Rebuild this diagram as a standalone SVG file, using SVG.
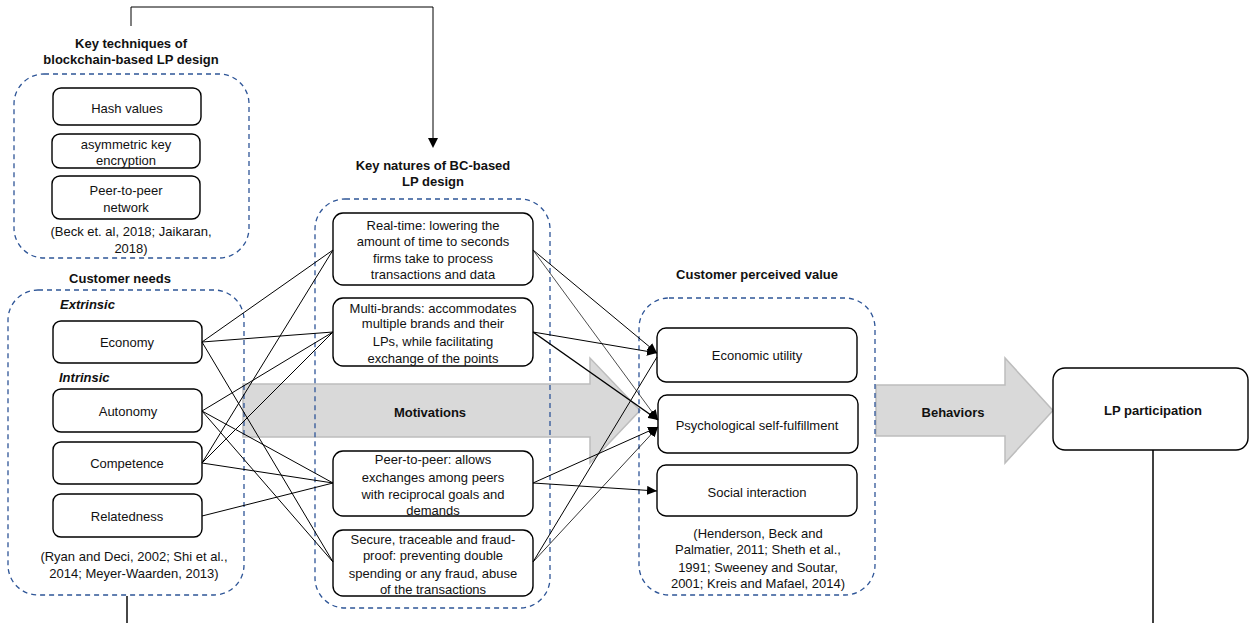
<svg xmlns="http://www.w3.org/2000/svg" width="1250" height="623" viewBox="0 0 1250 623">
<style>
text{font-family:"Liberation Sans",Arial,sans-serif;font-size:13px;fill:#111;text-anchor:middle}
.t{font-weight:bold}
.it{font-weight:bold;font-style:italic;text-anchor:start}
.grp{fill:none;stroke:#2e5597;stroke-width:1.3;stroke-dasharray:5 4}
.box{fill:#fff;stroke:#000;stroke-width:1.4}
.big{fill:#d9d9d9;stroke:#bdbdbd;stroke-width:1.5}
.c{stroke:#000;stroke-width:1;fill:none}
.ca{stroke:#000;stroke-width:1;fill:none;marker-end:url(#ah)}
</style>
<defs>
<marker id="ah" markerUnits="userSpaceOnUse" markerWidth="11" markerHeight="9" refX="10" refY="4.5" orient="auto">
<path d="M0,0 L10,4.5 L0,9 z" fill="#000"/>
</marker>
</defs>

<g id="big-arrows">
<polygon class="big" points="243,384 590,384 590,358 640,410.5 590,463 590,437 243,437"/>
<text class="t" x="430" y="416.5">Motivations</text>
<polygon class="big" points="876,385 1005,385 1005,358 1053,410.5 1005,463 1005,436 876,436"/>
<text class="t" x="953" y="416.5">Behaviors</text>
</g>

<g id="group-techniques">
<text class="t" x="131" y="48">Key techniques of</text>
<text class="t" x="131" y="64">blockchain-based LP design</text>
<rect class="grp" x="14" y="74" width="235" height="184" rx="30"/>
<text x="131" y="235.5">(Beck et. al, 2018; Jaikaran,</text>
<text x="131" y="252.5">2018)</text>
</g>
<g id="n-hash"><rect class="box" x="53" y="88" width="148" height="37" rx="8"/><text x="127" y="112.5">Hash values</text></g>
<g id="n-asym"><rect class="box" x="52" y="134" width="148" height="34" rx="8"/><text x="126" y="148.5">asymmetric key</text><text x="126" y="164.5">encryption</text></g>
<g id="n-p2pnet"><rect class="box" x="52" y="176" width="148" height="43" rx="8"/><text x="126" y="194.5">Peer-to-peer</text><text x="126" y="211.5">network</text></g>

<g id="group-needs">
<text class="t" x="120" y="283">Customer needs</text>
<rect class="grp" x="8" y="290" width="236" height="305" rx="30"/>
<text class="it" x="60" y="308.5">Extrinsic</text>
<text class="it" x="59" y="381.5">Intrinsic</text>
<text x="134" y="560.5">(Ryan and Deci, 2002; Shi et al.,</text>
<text x="134" y="577.5">2014; Meyer-Waarden, 2013)</text>
</g>
<g id="n-economy"><rect class="box" x="53" y="321" width="149" height="42" rx="8"/><text x="127" y="346.5">Economy</text></g>
<g id="n-autonomy"><rect class="box" x="53" y="389" width="149" height="43" rx="8"/><text x="128" y="416">Autonomy</text></g>
<g id="n-competence"><rect class="box" x="53" y="442" width="149" height="42" rx="8"/><text x="127" y="467.5">Competence</text></g>
<g id="n-relatedness"><rect class="box" x="53" y="494" width="149" height="43" rx="8"/><text x="127" y="521">Relatedness</text></g>

<g id="group-natures">
<text class="t" x="433" y="170">Key natures of BC-based</text>
<text class="t" x="433" y="186">LP design</text>
<rect class="grp" x="315" y="199" width="235" height="409" rx="30"/>
</g>
<g id="n-realtime"><rect class="box" x="333" y="213" width="200" height="72" rx="10"/>
<text x="433" y="230">Real-time: lowering the</text><text x="433" y="246">amount of time to seconds</text><text x="433" y="263">firms take to process</text><text x="433" y="279">transactions and data</text></g>
<g id="n-multi"><rect class="box" x="333" y="298" width="200" height="68" rx="10"/>
<text x="433" y="312.5">Multi-brands: accommodates</text><text x="433" y="328">multiple brands and their</text><text x="433" y="345.5">LPs, while facilitating</text><text x="433" y="362.5">exchange of the points</text></g>
<g id="n-peer"><rect class="box" x="333" y="451" width="200" height="65" rx="10"/>
<text x="433" y="463.5">Peer-to-peer: allows</text><text x="433" y="481.5">exchanges among peers</text><text x="433" y="498.5">with reciprocal goals and</text><text x="433" y="514.5">demands</text></g>
<g id="n-secure"><rect class="box" x="333" y="530" width="200" height="66" rx="10"/>
<text x="433" y="543.5">Secure, traceable and fraud-</text><text x="433" y="559.5">proof: preventing double</text><text x="433" y="577.5">spending or any fraud, abuse</text><text x="433" y="593.5">of the transactions</text></g>

<g id="group-value">
<text class="t" x="757" y="279">Customer perceived value</text>
<rect class="grp" x="639" y="298" width="236" height="297" rx="30"/>
<text x="758" y="537.5">(Henderson, Beck and</text>
<text x="758" y="553.5">Palmatier, 2011; Sheth et al.,</text>
<text x="758" y="571.5">1991; Sweeney and Soutar,</text>
<text x="758" y="587.5">2001; Kreis and Mafael, 2014)</text>
</g>
<g id="n-economic"><rect class="box" x="657" y="328" width="200" height="54" rx="9"/><text x="757" y="360">Economic utility</text></g>
<g id="n-psych"><rect class="box" x="658" y="395" width="200" height="58" rx="9"/><text x="757" y="429.5">Psychological self-fulfillment</text></g>
<g id="n-social"><rect class="box" x="657" y="465" width="200" height="51" rx="9"/><text x="757" y="496.5">Social interaction</text></g>

<g id="n-lp"><rect class="box" x="1053" y="368" width="195" height="82" rx="12"/><text class="t" x="1153" y="414.5">LP participation</text></g>

<g id="connectors">
<path class="c" d="M131,26 V7 H433 V139" />
<path d="M428,138 L438,138 L433,148 z" fill="#000"/>
<line class="c" x1="202" y1="342" x2="333" y2="250"/>
<line class="c" x1="202" y1="342" x2="333" y2="332"/>
<line class="c" x1="202" y1="342" x2="333" y2="562"/>
<line class="c" x1="202" y1="411" x2="333" y2="332"/>
<line class="c" x1="202" y1="411" x2="333" y2="483"/>
<line class="c" x1="202" y1="411" x2="333" y2="562"/>
<line class="c" x1="202" y1="463" x2="333" y2="250"/>
<line class="c" x1="202" y1="463" x2="333" y2="332"/>
<line class="c" x1="202" y1="463" x2="333" y2="483"/>
<line class="c" x1="202" y1="516" x2="333" y2="483"/>
<line class="ca" x1="533" y1="250" x2="657" y2="353"/>
<line class="ca" x1="533" y1="250" x2="658" y2="420" style="stroke-width:0.7"/>
<line class="ca" x1="533" y1="332" x2="657" y2="353"/>
<line class="ca" x1="533" y1="332" x2="658" y2="420" style="stroke-width:1.5"/>
<line class="ca" x1="533" y1="483" x2="658" y2="427"/>
<line class="ca" x1="533" y1="483" x2="657" y2="491"/>
<line class="c" x1="533" y1="562" x2="657" y2="357"/>
<line class="ca" x1="533" y1="562" x2="658" y2="427" style="stroke-width:0.8"/>
<line class="c" x1="127" y1="596" x2="127" y2="623" style="stroke-width:1.8;stroke:#333"/>
<line class="c" x1="1153" y1="450" x2="1153" y2="623" style="stroke-width:1.5"/>
</g>
</svg>
